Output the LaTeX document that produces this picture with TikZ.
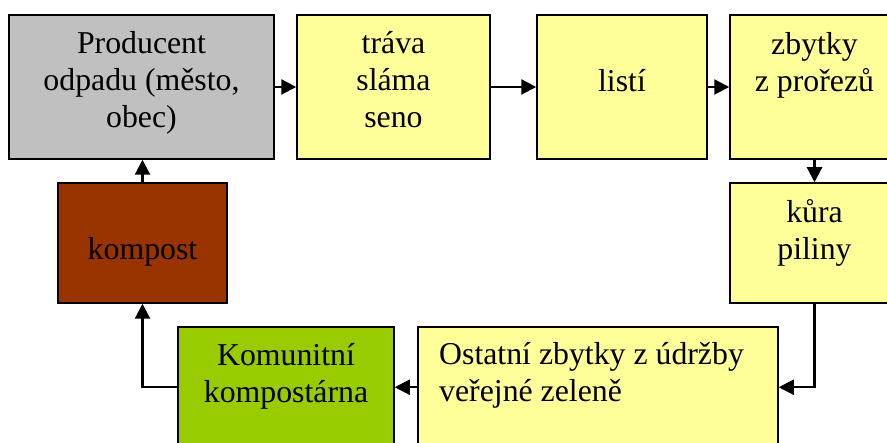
\documentclass[tikz,border=0pt]{standalone}
\usepackage{fontspec}
\setmainfont{Liberation Serif}
\usetikzlibrary{arrows.meta,calc}
\definecolor{boxgray}{HTML}{C0C0C0}
\definecolor{boxyellow}{HTML}{FFFF99}
\definecolor{boxbrown}{HTML}{993300}
\definecolor{boxgreen}{HTML}{99CC00}
\tikzset{
  box/.style={draw=black, line width=1.5pt, inner sep=0pt, rectangle},
  lbl/.style={inner sep=0pt, font=\fontsize{31.8}{37}\selectfont, anchor=base},
  arr/.style={draw=black, line width=2.2pt, -{Triangle[length=15pt,width=15pt]}}
}
\begin{document}
\begin{tikzpicture}[x=1pt,y=-1pt]
\useasboundingbox (0,0) rectangle (887,443);
\clip (0,0) rectangle (887,443);
\fill[white] (0,0) rectangle (887,443);
% boxes
\node[box, fill=boxgray,   minimum width=265pt, minimum height=144pt] (prod)    at (141.5,87) {};
\node[box, fill=boxyellow, minimum width=193pt, minimum height=144pt] (trava)   at (393.5,87) {};
\node[box, fill=boxyellow, minimum width=170pt, minimum height=144pt] (listi)   at (622,87) {};
\node[box, fill=boxyellow, minimum width=169pt, minimum height=144pt] (zbytky)  at (814.5,87) {};
\node[box, fill=boxyellow, minimum width=169pt, minimum height=120pt] (kura)    at (814.5,243) {};
\node[box, fill=boxbrown,  minimum width=169pt, minimum height=120pt] (kompost) at (142.5,243) {};
\node[box, fill=boxgreen,  minimum width=216pt, minimum height=144pt] (komunit) at (286,399) {};
\node[box, fill=boxyellow, minimum width=360pt, minimum height=144pt] (ostatni) at (598,399) {};
% texts (base anchor = baseline of the last line)
\node[lbl, align=center] (tprod) at (141.5,128) {Producent\\odpadu (město,\\obec)};
\node[lbl, align=center] (ttrava) at (393.5,128) {tráva\\sláma\\seno};
\node[lbl] (tlisti) at (622,92) {listí};
\node[lbl, align=center] (tzbytky) at (814.5,92) {zbytky\\z prořezů};
\node[lbl, align=center] (tkura) at (814.5,260) {kůra\\piliny};
\node[lbl] (tkompost) at (142.5,260) {kompost};
\node[lbl, align=center] (tkomunit) at (286,403) {Komunitní\\kompostárna};
\node[lbl, align=left, anchor=base west] (tostatni) at (439,402) {Ostatní zbytky z údržby\\veřejné zeleně};
% connectors
\draw[arr] (prod.east) -- (trava.west);
\draw[arr] (trava.east) -- (listi.west);
\draw[arr] (listi.east) -- (zbytky.west);
\draw[arr] (zbytky.south) -- (kura.north);
\draw[arr] (kura.south) |- ([yshift=-61pt]ostatni.north east);
\draw[arr] ([yshift=-61pt]ostatni.north west) -- ([yshift=-61pt]komunit.north east);
\draw[arr] ([yshift=-61pt]komunit.north west) -| (kompost.south);
\draw[arr] (kompost.north) -- (kompost.north |- prod.south);
\end{tikzpicture}
\end{document}
